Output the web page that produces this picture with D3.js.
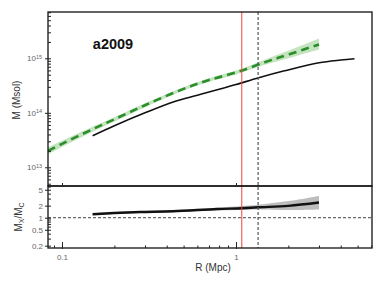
<html>
<head>
<script src="https://cdn.jsdelivr.net/npm/d3@7"></script>
<style>
body { margin:0; background:#fff; }
text { font-family: "Liberation Sans", Arial, sans-serif; }
.tick text { fill:#666; font-size:8px; }
.domain { display:none; }
</style>
</head>
<body>
<script>
// green dashed profile (with band)
var rGreen = [0.083, 0.1, 0.15, 0.2, 0.3, 0.5, 0.7, 1.0, 1.5, 2.0, 3.0];
var mGreen = [2.0e13, 2.7e13, 5.0e13, 7.6e13, 1.38e14, 2.75e14, 4.0e14, 5.5e14, 8.7e14, 1.17e15, 1.8e15];
var mGreenLo = [1.72e13, 2.36e13, 4.5e13, 6.9e13, 1.27e14, 2.57e14, 3.73e14, 5.07e14, 7.75e14, 1.0e15, 1.45e15];
var mGreenHi = [2.32e13, 3.08e13, 5.55e13, 8.3e13, 1.5e14, 2.95e14, 4.29e14, 5.96e14, 9.76e14, 1.37e15, 2.3e15];

// black profile
var rBlack = [0.15, 0.2, 0.3, 0.44, 0.6, 0.8, 1.0, 1.35, 1.9, 3.0, 4.0, 4.8];
var mBlack = [3.8e13, 5.8e13, 1.0e14, 1.6e14, 2.1e14, 2.7e14, 3.3e14, 4.4e14, 5.9e14, 8.3e14, 9.3e14, 9.8e14];

// ratio panel
var rRatio = [0.15, 0.2, 0.28, 0.435, 0.78, 1.08, 1.34, 2.0, 3.0];
var ratio = [1.22, 1.31, 1.39, 1.45, 1.65, 1.72, 1.82, 1.98, 2.4];
var ratioLo = [1.15, 1.23, 1.31, 1.37, 1.52, 1.55, 1.6, 1.55, 1.6];
var ratioHi = [1.3, 1.39, 1.47, 1.54, 1.78, 1.95, 2.1, 2.6, 3.5];

var redR = 1.08, grayR = 1.34;
var yTopTicks = [1e13, 1e14, 1e15];
var yBotTicks = [0.2, 0.5, 1, 2, 5];
var xTicks = [0.1, 1];

var W = 385, H = 289;
var L = 48, R = 372, T = 12, M = 186, B = 248;

var svg = d3.select('body').append('svg').attr('width', W).attr('height', H);

var x = d3.scaleLog().domain([0.0831, 6.05]).range([L, R]);
var yTop = d3.scaleLog().domain([Math.pow(10,12.657), Math.pow(10,15.85)]).range([M, T]);
var yBot = d3.scaleLog().domain([0.175, 6.2]).range([B, M]);
var smooth = d3.curveCatmullRom.alpha(0.5);

function minors(lo, hi){
	var out = [];
	for (var e = Math.floor(Math.log10(lo)); e <= Math.ceil(Math.log10(hi)); e++)
		for (var k = 2; k <= 9; k++){
			var v = k * Math.pow(10, e);
			if (v >= lo && v <= hi) out.push(v);
		}
	return out;
}

svg.append('clipPath').attr('id','ct').append('rect').attr('x',L).attr('y',T).attr('width',R-L).attr('height',M-T);
svg.append('clipPath').attr('id','cb').append('rect').attr('x',L).attr('y',M).attr('width',R-L).attr('height',B-M);

// ---- top panel ----
var upper = svg.append('g').attr('clip-path','url(#ct)');
upper.append('path')
	.datum(d3.range(rGreen.length))
	.attr('d', d3.area().curve(smooth)
		.x(function(i){ return x(rGreen[i]); })
		.y0(function(i){ return yTop(mGreenLo[i]); })
		.y1(function(i){ return yTop(mGreenHi[i]); }))
	.attr('fill', '#c4e3bf');
upper.append('path')
	.datum(d3.range(rBlack.length))
	.attr('d', d3.line().curve(smooth)
		.x(function(i){ return x(rBlack[i]); })
		.y(function(i){ return yTop(mBlack[i]); }))
	.attr('fill','none').attr('stroke','#111').attr('stroke-width',1.6);
upper.append('path')
	.datum(d3.range(rGreen.length))
	.attr('d', d3.line().curve(smooth)
		.x(function(i){ return x(rGreen[i]); })
		.y(function(i){ return yTop(mGreen[i]); }))
	.attr('fill','none').attr('stroke','#2a8f2a').attr('stroke-width',2.6)
	.attr('stroke-dasharray','8,5');

// ---- bottom panel ----
var lower = svg.append('g').attr('clip-path','url(#cb)');
lower.append('path')
	.datum(d3.range(rRatio.length))
	.attr('d', d3.area().curve(smooth)
		.x(function(i){ return x(rRatio[i]); })
		.y0(function(i){ return yBot(ratioLo[i]); })
		.y1(function(i){ return yBot(ratioHi[i]); }))
	.attr('fill', '#bdbdbd');
lower.append('line')
	.attr('x1', L).attr('x2', R).attr('y1', yBot(1)).attr('y2', yBot(1))
	.attr('stroke','#444').attr('stroke-width',1).attr('stroke-dasharray','3,2');
lower.append('path')
	.datum(d3.range(rRatio.length))
	.attr('d', d3.line().curve(smooth)
		.x(function(i){ return x(rRatio[i]); })
		.y(function(i){ return yBot(ratio[i]); }))
	.attr('fill','none').attr('stroke','#111').attr('stroke-width',2.4);

// vertical lines through both panels
svg.append('line')
	.attr('x1', x(grayR)).attr('x2', x(grayR)).attr('y1', T).attr('y2', B)
	.attr('stroke','#555').attr('stroke-width',1.2).attr('stroke-dasharray','3,2');
svg.append('line')
	.attr('x1', x(redR)).attr('x2', x(redR)).attr('y1', T).attr('y2', B)
	.attr('stroke','#ee4444').attr('stroke-width',1);

// frames
svg.append('rect').attr('x',L).attr('y',T).attr('width',R-L).attr('height',M-T)
	.attr('fill','none').attr('stroke','#111').attr('stroke-width',1.3);
svg.append('rect').attr('x',L).attr('y',M).attr('width',R-L).attr('height',B-M)
	.attr('fill','none').attr('stroke','#111').attr('stroke-width',1.3);

// ---- axes ----
function styleTicks(g){ g.selectAll('.tick line').attr('stroke','#222'); }

// top y axis
svg.append('g').attr('transform','translate('+L+',0)')
	.call(d3.axisLeft(yTop).tickValues(minors(yTop.domain()[0], yTop.domain()[1])).tickSize(-3).tickFormat(''))
	.call(styleTicks);
var gyt = svg.append('g').attr('transform','translate('+(L+3)+',0)')
	.call(d3.axisLeft(yTop).tickValues(yTopTicks).tickSize(6).tickPadding(2).tickFormat(''))
	.call(styleTicks);
gyt.selectAll('.tick').append('text')
	.attr('x', -9).attr('dy','0.3em').attr('text-anchor','end')
	.style('fill','#666').style('font-size','8px')
	.each(function(d){
		var t = d3.select(this);
		t.append('tspan').text('10');
		t.append('tspan').attr('dy','-0.45em').style('font-size','5.5px').text(Math.round(Math.log10(d)));
	});

// bottom y axis
svg.append('g').attr('transform','translate('+L+',0)')
	.call(d3.axisLeft(yBot).tickValues(minors(yBot.domain()[0], yBot.domain()[1]).filter(function(v){ return yBotTicks.indexOf(v) < 0; })).tickSize(-3).tickFormat(''))
	.call(styleTicks);
svg.append('g').attr('transform','translate('+(L+3)+',0)')
	.call(d3.axisLeft(yBot).tickValues(yBotTicks).tickSize(6).tickPadding(2).tickFormat(d3.format('')))
	.call(styleTicks);

// x axis (bottom)
svg.append('g').attr('transform','translate(0,'+B+')')
	.call(d3.axisBottom(x).tickValues(minors(x.domain()[0], x.domain()[1])).tickSize(-2.5).tickFormat(''))
	.call(styleTicks);
svg.append('g').attr('transform','translate(0,'+(B+1)+')')
	.call(d3.axisBottom(x).tickValues(xTicks).tickSize(-7).tickPadding(5).tickFormat(d3.format('')))
	.call(styleTicks);
// small ticks at bottom of top panel
svg.append('g').attr('transform','translate(0,'+M+')')
	.call(d3.axisBottom(x).tickValues(xTicks).tickSize(-3).tickFormat(''))
	.call(styleTicks);

// labels
svg.append('text').attr('x',113).attr('y',49).attr('text-anchor','middle')
	.style('font-size','14.5px').style('font-weight','bold').attr('fill','#111').text('a2009');
svg.append('text').attr('transform','translate(20,100) rotate(-90)').attr('text-anchor','middle')
	.style('font-size','10px').attr('fill','#333').text('M  (Msol)');
var yl = svg.append('text').attr('transform','translate(22,217) rotate(-90)').attr('text-anchor','middle')
	.style('font-size','10px').attr('fill','#333');
yl.append('tspan').text('M');
yl.append('tspan').attr('dy','2').style('font-size','7px').text('X');
yl.append('tspan').attr('dy','-2').text('/M');
yl.append('tspan').attr('dy','2').style('font-size','7px').text('C');
svg.append('text').attr('x',213).attr('y',271).attr('text-anchor','middle')
	.style('font-size','10px').attr('fill','#333').text('R  (Mpc)');
</script>
</body>
</html>
